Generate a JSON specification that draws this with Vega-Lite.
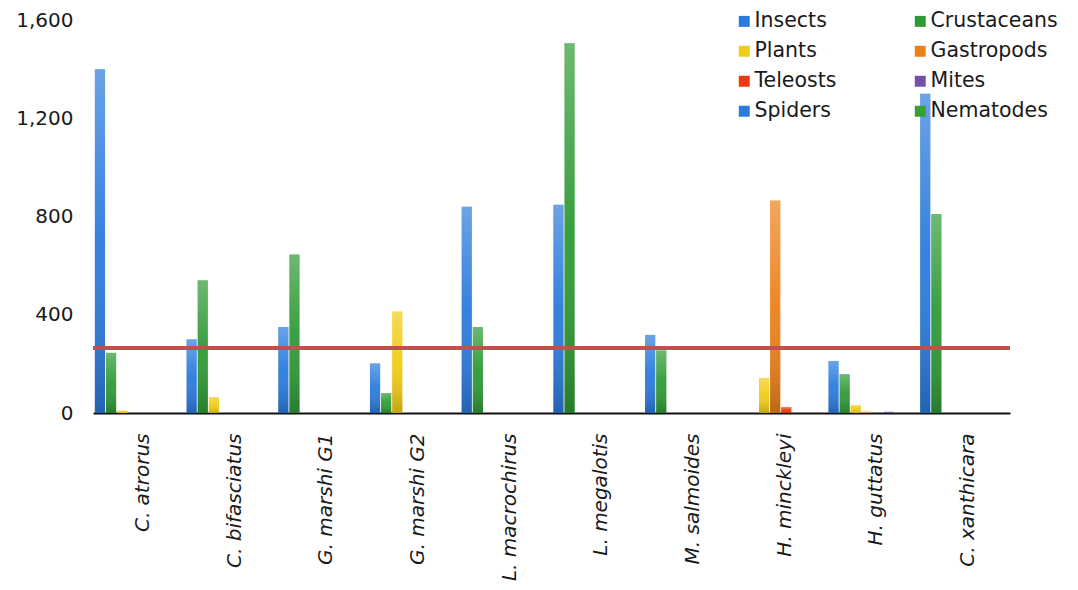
{
  "$schema": "https://vega.github.io/schema/vega-lite/v6.json",
  "width": 917,
  "height": 393,
  "autosize": "none",
  "padding": {"left": 93, "top": 20, "right": 68, "bottom": 177},
  "background": "white",
  "config": {
    "view": {"stroke": null},
    "font": "DejaVu Sans",
    "axis": {"grid": false, "ticks": false, "labelFont": "DejaVu Sans", "labelColor": "#1a1a1a", "labelFontSize": 20, "title": null},
    "legend": {"labelFont": "DejaVu Sans", "labelColor": "#1a1a1a"}
  },
  "data": {
    "values": [
      {"species": "C. atrorus", "prey": "Insects", "count": 1400},
      {"species": "C. atrorus", "prey": "Crustaceans", "count": 245},
      {"species": "C. atrorus", "prey": "Plants", "count": 10},
      {"species": "C. bifasciatus", "prey": "Insects", "count": 300},
      {"species": "C. bifasciatus", "prey": "Crustaceans", "count": 540},
      {"species": "C. bifasciatus", "prey": "Plants", "count": 65},
      {"species": "G. marshi G1", "prey": "Insects", "count": 350},
      {"species": "G. marshi G1", "prey": "Crustaceans", "count": 645},
      {"species": "G. marshi G2", "prey": "Insects", "count": 202},
      {"species": "G. marshi G2", "prey": "Crustaceans", "count": 81},
      {"species": "G. marshi G2", "prey": "Plants", "count": 413},
      {"species": "L. macrochirus", "prey": "Insects", "count": 840},
      {"species": "L. macrochirus", "prey": "Crustaceans", "count": 350},
      {"species": "L. megalotis", "prey": "Insects", "count": 848},
      {"species": "L. megalotis", "prey": "Crustaceans", "count": 1505},
      {"species": "M. salmoides", "prey": "Insects", "count": 318},
      {"species": "M. salmoides", "prey": "Crustaceans", "count": 255},
      {"species": "H. minckleyi", "prey": "Plants", "count": 143},
      {"species": "H. minckleyi", "prey": "Gastropods", "count": 865},
      {"species": "H. minckleyi", "prey": "Teleosts", "count": 24},
      {"species": "H. guttatus", "prey": "Insects", "count": 212},
      {"species": "H. guttatus", "prey": "Crustaceans", "count": 158},
      {"species": "H. guttatus", "prey": "Plants", "count": 32},
      {"species": "H. guttatus", "prey": "Gastropods", "count": 5},
      {"species": "H. guttatus", "prey": "Mites", "count": 5},
      {"species": "C. xanthicara", "prey": "Insects", "count": 1300},
      {"species": "C. xanthicara", "prey": "Crustaceans", "count": 810}
    ]
  },
  "layer": [
    {
      "mark": {"type": "bar"},
      "encoding": {
        "x": {
          "field": "species", "type": "nominal", "sort": null,
          "scale": {"domain": ["C. atrorus", "C. bifasciatus", "G. marshi G1", "G. marshi G2", "L. macrochirus", "L. megalotis", "M. salmoides", "H. minckleyi", "H. guttatus", "C. xanthicara"], "paddingInner": 0.04, "paddingOuter": 0.02},
          "axis": {"labelAngle": -90, "labelFontStyle": "italic", "labelPadding": 20, "labelOffset": 4, "domain": true, "domainColor": "#111", "domainWidth": 2}
        },
        "xOffset": {
          "field": "prey", "type": "nominal",
          "scale": {"domain": ["Insects", "Crustaceans", "Plants", "Gastropods", "Teleosts", "Mites", "Spiders", "Nematodes"], "paddingInner": 0.08, "paddingOuter": 0}
        },
        "y": {
          "field": "count", "type": "quantitative",
          "scale": {"domain": [0, 1600], "nice": false},
          "axis": {"values": [0, 400, 800, 1200, 1600], "format": ",.0f", "domain": false, "labelPadding": 20}
        },
        "color": {
          "field": "prey", "type": "nominal",
          "scale": {
            "domain": ["Insects", "Crustaceans", "Plants", "Gastropods", "Teleosts", "Mites", "Spiders", "Nematodes"],
            "range": ["#2a7bdc", "#2f9a35", "#f0cc14", "#ee8018", "#ee3810", "#7450aa", "#2a7bdc", "#3a9e35"]
          },
          "legend": {
            "title": null, "orient": "none", "legendX": 641, "legendY": -9, "direction": "horizontal", "columns": 2,
            "symbolType": "square", "symbolSize": 120, "symbolStrokeWidth": 0, "labelFontSize": 20.5, "labelOffset": 0,
            "rowPadding": 9, "columnPadding": 73, "labelLimit": 200
          }
        }
      }
    },
    {
      "mark": {
        "type": "bar",
        "fill": {"gradient": "linear", "x1": 0, "y1": 0, "x2": 0, "y2": 1, "stops": [
          {"offset": 0, "color": "rgba(255,255,255,0.3)"},
          {"offset": 0.5, "color": "rgba(255,255,255,0.05)"},
          {"offset": 1, "color": "rgba(0,0,0,0.2)"}
        ]}
      },
      "encoding": {
        "x": {"field": "species", "type": "nominal", "sort": null},
        "xOffset": {"field": "prey", "type": "nominal"},
        "y": {"field": "count", "type": "quantitative"}
      }
    },
    {
      "data": {"values": [{"threshold": 265}]},
      "mark": {"type": "rule", "color": "#c0504d", "strokeWidth": 4},
      "encoding": {"y": {"field": "threshold", "type": "quantitative"}}
    }
  ]
}
